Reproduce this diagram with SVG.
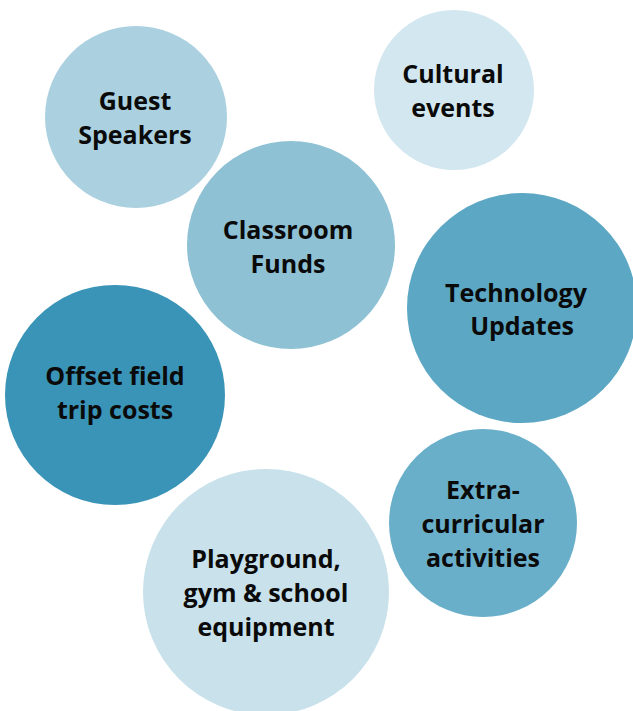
<svg xmlns="http://www.w3.org/2000/svg" width="633" height="711" viewBox="0 0 633 711">
<style>
text{font-family:"Open Sans","Noto Sans","Liberation Sans",sans-serif;font-weight:700;font-size:25px;fill:#0a0a0a;text-anchor:middle}
</style>
<rect width="633" height="711" fill="#fff"/>
<g id="guest"><circle cx="136" cy="117" r="91" fill="#abd1e0"/><text x="135" y="110">Guest</text><text x="135" y="144">Speakers</text></g>
<g id="cultural"><circle cx="454" cy="90" r="80" fill="#d3e7f0"/><text x="453" y="83">Cultural</text><text x="453" y="117">events</text></g>
<g id="classroom"><circle cx="291" cy="245" r="104" fill="#8fc1d5"/><text x="288" y="239">Classroom</text><text x="288" y="273">Funds</text></g>
<g id="technology"><circle cx="522" cy="308" r="115" fill="#5ba7c4"/><text x="516" y="302">Technology</text><text x="522" y="335">Updates</text></g>
<g id="offset"><circle cx="115" cy="395" r="110" fill="#3a94b7"/><text x="115" y="385">Offset field</text><text x="115" y="419">trip costs</text></g>
<g id="extra"><circle cx="483" cy="523" r="94" fill="#6aafca"/><text x="483" y="499">Extra-</text><text x="483" y="533">curricular</text><text x="483" y="567">activities</text></g>
<g id="playground"><circle cx="266" cy="592" r="123" fill="#c8e1eb"/><text x="266" y="568">Playground,</text><text x="266" y="602">gym &amp; school</text><text x="266" y="636">equipment</text></g>
<g id="connectors"/>
</svg>
